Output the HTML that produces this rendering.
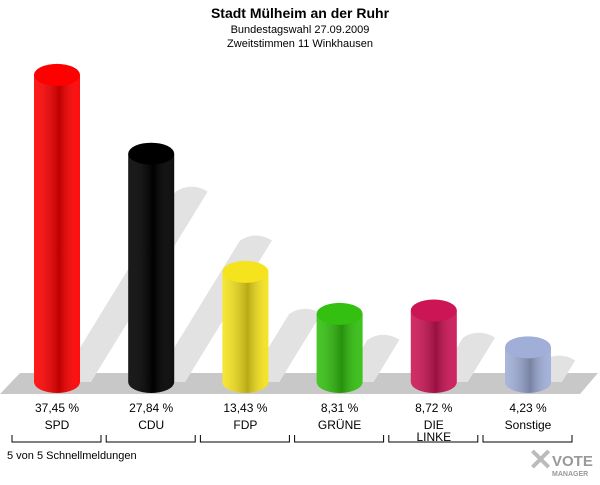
<!DOCTYPE html>
<html><head><meta charset="utf-8"><style>
body{margin:0;background:#fff;font-family:"Liberation Sans",sans-serif}
</style></head><body>
<svg width="600" height="480" xmlns="http://www.w3.org/2000/svg" id="chart" font-family="Liberation Sans, sans-serif">
<defs>
<linearGradient id="shade" x1="0" x2="1"><stop offset="0" stop-color="#fff" stop-opacity="0.1"/><stop offset="0.55" stop-color="#000" stop-opacity="0.25"/><stop offset="1" stop-color="#fff" stop-opacity="0.05"/></linearGradient>
</defs>
<text x="300" y="18" text-anchor="middle" font-size="14" font-weight="bold">Stadt Mülheim an der Ruhr</text>
<text x="300" y="33" text-anchor="middle" font-size="11">Bundestagswahl 27.09.2009</text>
<text x="300" y="47" text-anchor="middle" font-size="11">Zweitstimmen 11 Winkhausen</text>
<polygon points="20,373 598,373 580,394 0,394" fill="#c8c8c8"/>
<g id="shadows"></g>
<g id="bars"></g>
<g id="labels"></g>
<text x="7" y="459" font-size="11">5 von 5 Schnellmeldungen</text>
<g>
<text x="528" y="470" font-size="30" font-weight="bold" fill="#bbb">✕</text>
<text x="552" y="466" font-size="15" font-weight="bold" fill="#999">VOTE</text>
<text x="552" y="476" font-size="7" font-weight="bold" fill="#999">MANAGER</text>
</g>
</svg>
<script>
const categories=["SPD","CDU","FDP","GRÜNE","DIE LINKE","Sonstige"];
const values=[37.45,27.84,13.43,8.31,8.72,4.23];
const valueLabels=["37,45 %","27,84 %","13,43 %","8,31 %","8,72 %","4,23 %"];
const colors=["#ff0000","#000000","#f5e31e","#33c010","#cc1555","#a0aed8"];
const NS="http://www.w3.org/2000/svg";
const base=382, scale=8.2, x0=57, step=94.2, w=46, ry=11;
const xPos=i=>x0+i*step;
const yPos=v=>base-v*scale;
function mk(t,a,p){const e=document.createElementNS(NS,t);for(const k in a)e.setAttribute(k,a[k]);p.appendChild(e);return e;}
const sh=document.getElementById('shadows'),bg=document.getElementById('bars'),lg=document.getElementById('labels');
values.forEach((v,i)=>{
  const cx=xPos(i),top=yPos(v),h=base-top;
  const dx=0.38*h, dy=0.62*h, sw=32, x1=cx+2;
  const s=mk('path',{d:`M${x1},${base} L${x1+sw},${base} L${x1+sw+dx},${base-dy} Q${x1+sw/2+dx},${base-dy-10} ${x1+dx},${base-dy} Z`,fill:'#e2e2e2'},sh);
  
  
  const g=mk('g',{},bg);
  
  
  const body=`M${cx-w/2},${top} V${base} A${w/2},${ry} 0 0 0 ${cx+w/2},${base} V${top} Z`;
  mk('path',{d:body,fill:colors[i]},g);
  mk('path',{d:body,fill:'url(#shade)'},g);
  mk('ellipse',{cx:cx,cy:top,rx:w/2,ry:ry,fill:colors[i]},g);
  const t=mk('text',{x:cx,y:412,'text-anchor':'middle','font-size':12},lg);t.textContent=valueLabels[i];
  
  
  const parts=categories[i]==="DIE LINKE"?["DIE","LINKE"]:[categories[i]];
  parts.forEach((p,j)=>{const n=mk('text',{x:cx,y:429+j*12,'text-anchor':'middle','font-size':12},lg);n.textContent=p;
    
    });
  const b=mk('path',{d:`M${cx-45},435 V442 H${cx+44} V435`,fill:'none',stroke:'#000','stroke-width':1},lg);
  
  
});
</script>
</body></html>
